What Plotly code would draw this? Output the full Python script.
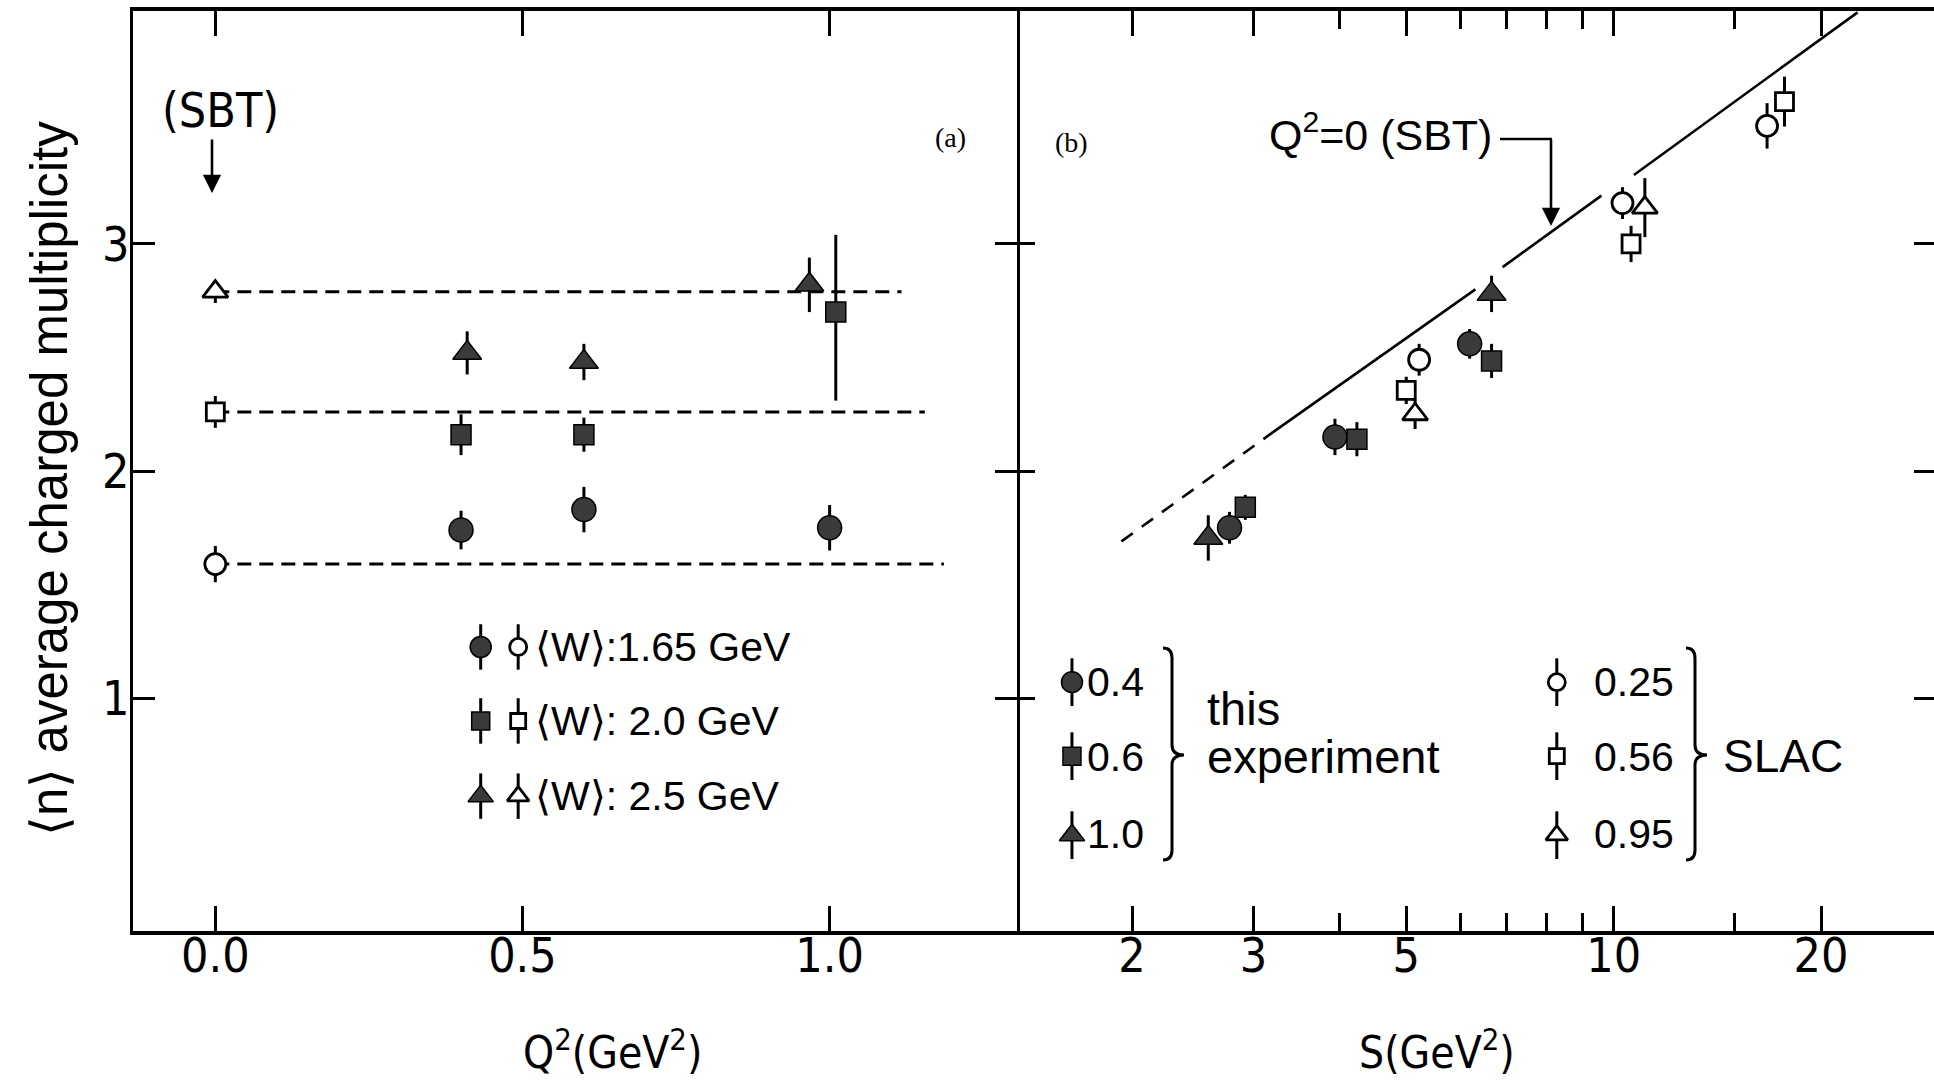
import plotly.graph_objects as go

# ---------------- data: panel (a)  <n> vs Q^2 ----------------
q2_tick_vals = [0.0, 0.5, 1.0]
q2_tick_text = ["0.0", "0.5", "1.0"]
n_tick_vals = [1, 2, 3]
n_tick_text = ["1", "2", "3"]

# <W> = 1.65 GeV  (filled circles)
a_w165_q2 = [0.40, 0.60, 1.00]
a_w165_n = [1.74, 1.83, 1.75]
a_w165_err = [0.085, 0.10, 0.10]
# <W> = 2.0 GeV  (filled squares)
a_w20_q2 = [0.40, 0.60, 1.01]
a_w20_n = [2.16, 2.16, 2.70]
a_w20_err_plus = [0.09, 0.075, 0.34]
a_w20_err_minus = [0.09, 0.075, 0.39]
# <W> = 2.5 GeV  (filled triangles)
a_w25_q2 = [0.41, 0.60, 0.967]
a_w25_n = [2.52, 2.48, 2.82]
a_w25_err = [0.095, 0.08, 0.12]

# Q^2 = 0 (SBT) open points and their dashed reference levels
sbt_q2 = [0.0]
sbt_w165_n = [1.59]
sbt_w165_err = [0.08]
sbt_w20_n = [2.26]
sbt_w20_err = [0.07]
sbt_w25_n = [2.79]
sbt_w25_err = [0.05]
level_end_q2 = [1.186, 1.155, 1.117]   # circle, square, triangle levels

# ---------------- data: panel (b)  <n> vs s ----------------
s_tick_vals = [2, 3, 5, 10, 20]
s_tick_text = ["2", "3", "5", "10", "20"]
s_minor_vals = [4, 6, 7, 8, 9, 15]

# this experiment
b_q04_s = [2.77, 3.94, 6.18]
b_q04_n = [1.75, 2.15, 2.56]
b_q04_err = [0.07, 0.08, 0.065]
b_q06_s = [2.92, 4.24, 6.65]
b_q06_n = [1.84, 2.14, 2.485]
b_q06_err = [0.055, 0.075, 0.075]
b_q10_s = [2.58, 6.65]
b_q10_n = [1.705, 2.78]
b_q10_err = [0.10, 0.08]
# SLAC
slac_q025_s = [5.22, 10.3, 16.7]
slac_q025_n = [2.49, 3.18, 3.52]
slac_q025_err = [0.07, 0.07, 0.10]
slac_q056_s = [5.0, 10.6, 17.7]
slac_q056_n = [2.355, 3.0, 3.627]
slac_q056_err = [0.06, 0.08, 0.11]
slac_q095_s = [5.15, 11.1]
slac_q095_n = [2.25, 3.16]
slac_q095_err = [0.065, 0.13]

# Q^2 = 0 (SBT) line: dashed part and solid (broken) part
line_dash_s = [1.93, 3.2]
line_dash_n = [1.69, 2.17]
line_solid_s = [3.2, 6.3, None, 6.9, 9.6, None, 10.7, 22.6]
line_solid_n = [2.17, 2.80, None, 2.898, 3.213, None, 3.304, 4.02]

# ---------------- layout constants ----------------
W, H = 1934, 1084
def PX(x):
    return x / W
def PY(y):
    return 1 - y / H

NARROW = "DejaVu Sans Condensed, Liberation Sans Narrow, Liberation Sans, sans-serif"
REG = "Liberation Sans, Arial, sans-serif"
SERIF = "Liberation Serif, Times New Roman, serif"
INK = "black"
FILL = "#3a3a3a"

YRANGE = [-0.026, 4.026]
YDOM = [PY(931), PY(11)]

fig = go.Figure()


def pts(x, y, sym, filled, size, err=None, err_minus=None, xa="x", ya="y", thick=3):
    ey = None
    if err is not None:
        ey = dict(type="data", array=err, color=INK, thickness=thick, width=0, visible=True)
        if err_minus is not None:
            ey["symmetric"] = False
            ey["arrayminus"] = err_minus
    fig.add_trace(go.Scatter(
        x=x, y=y, mode="markers", xaxis=xa, yaxis=ya, showlegend=False,
        error_y=ey, cliponaxis=False,
        marker=dict(symbol=sym, size=size, color=FILL if filled else "white",
                    line=dict(color=INK, width=1.5 if filled else 2.8)),
    ))


# ---- panel (a) ----
levels = [sbt_w165_n[0], sbt_w20_n[0], sbt_w25_n[0]]
for lv, xe in zip(levels, level_end_q2):
    fig.add_trace(go.Scatter(x=[sbt_q2[0], xe], y=[lv, lv], mode="lines", xaxis="x", yaxis="y",
                             showlegend=False, line=dict(color=INK, width=3, dash="14px,8px")))

pts(sbt_q2, sbt_w165_n, "circle", False, 21, sbt_w165_err)
pts(sbt_q2, sbt_w20_n, "square", False, 18, sbt_w20_err)
pts(sbt_q2, sbt_w25_n, "triangle-up", False, 22, sbt_w25_err)
pts(a_w165_q2, a_w165_n, "circle", True, 24, a_w165_err)
pts(a_w20_q2, a_w20_n, "square", True, 20, a_w20_err_plus, a_w20_err_minus)
pts(a_w25_q2, a_w25_n, "triangle-up", True, 25, a_w25_err)

# legend markers in panel (a)
leg_a_rows = [1.225, 0.899, 0.568]
leg_a_xf, leg_a_xo = 0.432, 0.493
for row, sym, s_f, s_o in zip(leg_a_rows, ["circle", "square", "triangle-up"], [21, 18, 22], [17, 15, 19]):
    pts([leg_a_xf], [row], sym, True, s_f, [0.1])
    pts([leg_a_xo], [row], sym, False, s_o, [0.1])

# ---- panel (b) ----
fig.add_trace(go.Scatter(x=line_dash_s, y=line_dash_n, mode="lines", xaxis="x2", yaxis="y2",
                         showlegend=False, line=dict(color=INK, width=2.6, dash="14px,11px")))
fig.add_trace(go.Scatter(x=line_solid_s, y=line_solid_n, mode="lines", xaxis="x2", yaxis="y2",
                         showlegend=False, connectgaps=False, line=dict(color=INK, width=2.6)))

pts(b_q10_s, b_q10_n, "triangle-up", True, 25, b_q10_err, xa="x2", ya="y2")
pts(b_q04_s, b_q04_n, "circle", True, 24, b_q04_err, xa="x2", ya="y2")
pts(b_q06_s, b_q06_n, "square", True, 20, b_q06_err, xa="x2", ya="y2")
pts(slac_q056_s, slac_q056_n, "square", False, 18, slac_q056_err, xa="x2", ya="y2")
pts(slac_q095_s, slac_q095_n, "triangle-up", False, 22, slac_q095_err, xa="x2", ya="y2")
pts(slac_q025_s, slac_q025_n, "circle", False, 21, slac_q025_err, xa="x2", ya="y2")

# legend markers in panel (b)
leg_b_rows = [1.07, 0.744, 0.396]
leg_b_sf, leg_b_so = 1.636, 8.27
for row, sym, s_f, s_o in zip(leg_b_rows, ["circle", "square", "triangle-up"], [21, 18, 22], [17, 15, 19]):
    pts([leg_b_sf], [row], sym, True, s_f, [0.105], xa="x2", ya="y2")
    pts([leg_b_so], [row], sym, False, s_o, [0.105], xa="x2", ya="y2")

# ---------------- axes ----------------
tickfont = dict(family=NARROW, size=48, color=INK)
common = dict(showgrid=False, zeroline=False, linecolor=INK, ticks="inside",
              tickcolor=INK, tickwidth=3, tickfont=tickfont)

fig.update_layout(
    width=W, height=H, margin=dict(l=0, r=0, t=0, b=0),
    paper_bgcolor="white", plot_bgcolor="white", showlegend=False,
    xaxis=dict(domain=[PX(133), PX(1017)], range=[-0.134, 1.305], anchor="y",
               tickvals=q2_tick_vals, ticktext=q2_tick_text, ticklen=25, linewidth=3.5,
               showline=True, mirror="ticks", ticklabelstandoff=-20, **common),
    yaxis=dict(domain=YDOM, range=YRANGE, anchor="x", tickvals=n_tick_vals, ticktext=n_tick_text,
               ticklen=22, linewidth=3, showline=True, mirror="ticks", ticklabelstandoff=-9, **common),
    xaxis2=dict(domain=[PX(1017), 1.0], type="log", range=[0.134, 1.465], anchor="y2",
                tickvals=s_tick_vals, ticktext=s_tick_text, ticklen=25, linewidth=3.5,
                showline=True, mirror="ticks", ticklabelstandoff=-20,
                minor=dict(tickvals=s_minor_vals, ticks="inside", ticklen=18, tickwidth=3, tickcolor=INK),
                **common),
    yaxis2=dict(domain=YDOM, range=YRANGE, anchor="x2", tickvals=n_tick_vals,
                showticklabels=False, ticklen=18, showline=False, **common),
    yaxis3=dict(domain=YDOM, range=YRANGE, overlaying="y2", side="right", anchor="x2",
                tickvals=n_tick_vals, showticklabels=False, showgrid=False, zeroline=False,
                showline=False, ticks="inside", ticklen=20, tickwidth=3, tickcolor=INK),
)
# trace so that yaxis3 (right-hand ticks of panel b) renders
fig.add_trace(go.Scatter(x=[None], y=[None], xaxis="x2", yaxis="y3", showlegend=False))

# ---------------- text & decorations ----------------
ann = []
def text(x, y, s, size, family=REG, xanchor="center", angle=0):
    ann.append(dict(x=PX(x), y=PY(y), xref="paper", yref="paper", text=s, showarrow=False,
                    xanchor=xanchor, yanchor="middle", textangle=angle,
                    font=dict(family=family, size=size, color=INK)))

text(49, 479, "⟨n⟩ average charged multiplicity", 51, REG, angle=-90)
text(612, 1049, "Q<sup>2</sup>(GeV<sup>2</sup>)", 44, NARROW)
text(1437, 1049, "S(GeV<sup>2</sup>)", 44, NARROW)
text(220, 110, "(SBT)", 48, NARROW)
text(950, 137, "(a)", 28, SERIF)
text(1071, 142, "(b)", 28, SERIF)
text(1494, 132, "Q<sup>2</sup>=0 (SBT)", 43, REG, xanchor="right")

# legend (a)
for yy, s in zip([647, 721, 796], ["⟨W⟩:1.65 GeV", "⟨W⟩: 2.0 GeV", "⟨W⟩: 2.5 GeV"]):
    text(533, yy, s, 41, REG, xanchor="left")
# legend (b)
for yy, s in zip([682, 757, 834], ["0.4", "0.6", "1.0"]):
    text(1085, yy, s, 41, REG, xanchor="left")
for yy, s in zip([682, 757, 834], ["0.25", "0.56", "0.95"]):
    text(1592, yy, s, 41, REG, xanchor="left")
text(1205, 708, "this", 47, REG, xanchor="left")
text(1205, 756, "experiment", 47, REG, xanchor="left")
text(1721, 756, "SLAC", 46, REG, xanchor="left")

# arrows
for xt, yt, dy in [(212, 193, -55), (1551, 226, -88)]:
    ann.append(dict(x=PX(xt), y=PY(yt), xref="paper", yref="paper", ax=0, ay=dy,
                    axref="pixel", ayref="pixel", text="", showarrow=True,
                    arrowhead=2, arrowsize=1.4, arrowwidth=2.6, arrowcolor=INK, standoff=0))
fig.update_layout(annotations=ann)

shapes = []
# connector of the Q^2=0 (SBT) label
shapes.append(dict(type="line", xref="paper", yref="paper", x0=PX(1500), x1=PX(1552),
                   y0=PY(139), y1=PY(139), line=dict(color=INK, width=2.6)))

def brace(xv, top, bot, mid):
    xh, xt = xv - 9, xv + 12
    p = [
        f"M {PX(xh)},{PY(top)}",
        f"Q {PX(xv)},{PY(top)} {PX(xv)},{PY(top + 10)}",
        f"L {PX(xv)},{PY(mid - 10)}",
        f"Q {PX(xv)},{PY(mid)} {PX(xt)},{PY(mid)}",
        f"Q {PX(xv)},{PY(mid)} {PX(xv)},{PY(mid + 10)}",
        f"L {PX(xv)},{PY(bot - 10)}",
        f"Q {PX(xv)},{PY(bot)} {PX(xh)},{PY(bot)}",
    ]
    return dict(type="path", xref="paper", yref="paper", path=" ".join(p),
                line=dict(color=INK, width=3))

shapes.append(brace(1172, 648, 860, 755))
shapes.append(brace(1695, 648, 860, 755))
fig.update_layout(shapes=shapes)

fig.write_html("out.html")
